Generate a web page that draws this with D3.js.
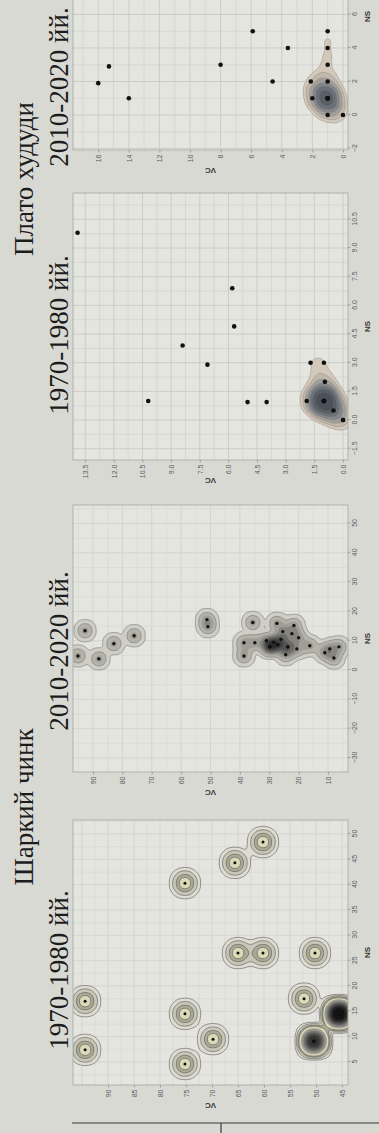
<!DOCTYPE html>
<html>
<head>
<meta charset="utf-8">
<script src="https://cdn.jsdelivr.net/npm/d3@7"></script>
<style>
  html, body { margin: 0; padding: 0; background: #d9d9d4; overflow: hidden; }
  svg { display: block; }
  .axis text { font-family: 'Liberation Sans', 'DejaVu Sans', sans-serif; font-size: 7px; fill: #5c5c5c; }
  .axis line { stroke: #8a8a8a; stroke-width: 0.7; }
  .axis-title { font-family: 'Liberation Sans', 'DejaVu Sans', sans-serif; font-size: 8px; font-weight: bold; fill: #333; }
  .title { font-family: 'Liberation Serif', 'DejaVu Serif', serif; font-size: 27px; fill: #1c1c1c; }
</style>
</head>
<body>
<svg id="page" width="379" height="1133"></svg>
<script>
// Шаркий чинк 1970-1980 (NS, VC)
const eastOldNS = [17, 7.4, 14.5, 4.6, 9.5, 40.3, 44.3, 48.4, 26.5, 26.5, 26.5, 17.5,
  9.1, 9.1, 9.1, 9.1, 9.1, 9.1,
  14.5, 14.5, 14.5, 14.5, 14.5, 14.5, 14.5, 14.5, 14.5];
const eastOldVC = [94.4, 94.4, 75.2, 75.2, 69.8, 75.2, 65.6, 60.2, 65, 60.2, 50.2, 52.3,
  50.4, 50.4, 50.4, 50.4, 50.4, 50.4,
  45.6, 45.6, 45.6, 45.6, 45.6, 45.6, 45.6, 45.6, 45.6];

// Шаркий чинк 2010-2020
const eastNewNS = [4.8, 13.4, 3.8, 9, 11.7, 17.2, 14.8,
  16.2, 9.3, 4.8, 15.9, 15.2, 13.1, 12.4, 7.9, 7.9, 7.9, 8.6, 8.6, 7.9, 7.9,
  7.2, 5.2, 8.3, 7.2, 7.9, 4.1, 9.3, 5.9, 10, 10.5, 9.5, 11];
const eastNewVC = [95.1, 92.7, 88, 82.9, 76, 51.2, 50.9,
  35.6, 38.6, 38.6, 27.4, 21.6, 25.4, 22.3, 29.8, 29.8, 29.8, 27.1, 27.1, 23.7, 23.7,
  20.6, 24.4, 16.2, 9.4, 6.3, 8.0, 34.9, 11.1, 31, 26, 28.5, 20];

// Плато худуди 1970-1980
const plateauOldNS = [9.8, 1, 3.9, 2.9, 6.9, 4.9, 0.94, 0.94, 3, 3, 2, 1, 0,
  1, 1, 1, 1, 1, 1, 0.5, 0];
const plateauOldVC = [13.9, 10.2, 8.4, 7.1, 5.8, 5.7, 5.0, 4.0, 1.7, 1.0, 0.95, 1.9, 0,
  1, 1, 1, 1, 1, 1, 0.5, 0];

// Плато худуди 2010-2020
const plateauNewNS = [1.9, 2.9, 1, 3, 5, 4, 2, 2, 5, 4, 3, 2, 0,
  1, 1, 1, 1, 1, 1, 0];
const plateauNewVC = [16, 15.3, 14, 8, 5.9, 3.6, 4.6, 2.1, 1, 1, 1, 1, 0,
  1, 1, 1, 1, 1, 2, 1];

const eastOldNSTicks = [5, 10, 15, 20, 25, 30, 35, 40, 45, 50];
const eastOldVCTicks = [45, 50, 55, 60, 65, 70, 75, 80, 85, 90];
const eastNewNSTicks = [-30, -20, -10, 0, 10, 20, 30, 40, 50];
const eastNewVCTicks = [10, 20, 30, 40, 50, 60, 70, 80, 90];
const plateauOldNSTicks = [-1.5, 0, 1.5, 3, 4.5, 6, 7.5, 9, 10.5];
const plateauOldVCTicks = [0, 1.5, 3, 4.5, 6, 7.5, 9, 10.5, 12, 13.5];
const plateauNewNSTicks = [-2, 0, 2, 4, 6];
const plateauNewVCTicks = [0, 2, 4, 6, 8, 10, 12, 14, 16];

const regionTitles = ['Шаркий чинк', 'Плато худуди'];
const periodTitles = ['1970-1980 йй.', '2010-2020 йй.', '1970-1980 йй.', '2010-2020 йй.'];

const panelTop = 73;
const panelHeight = 275;

const panels = [
  { ns: eastOldNS, vc: eastOldVC, nsTicks: eastOldNSTicks, vcTicks: eastOldVCTicks, fmt: 'd',
    left: 48, width: 265, xDomain: [0.46, 52.76], yDomain: [43.85, 96.73],
    bw: 7, cell: 1, r: 1.5, grid: '#d3d3ce', lines: 4, stroke: '#505050',
    levels: [0.1, 0.26, 0.52, 0.78, 1.3, 1.8, 2.4, 3.1, 3.9, 4.8, 5.8, 7],
    fills: ['#dedcd2', '#c8c7b7', '#a9a996', '#dcd9b8', '#a3a396', '#8c8c85', '#747471',
      '#5c5c5b', '#464646', '#333333', '#222222', '#141414'] },
  { ns: eastNewNS, vc: eastNewVC, nsTicks: eastNewNSTicks, vcTicks: eastNewVCTicks, fmt: 'd',
    left: 361, width: 267, xDomain: [-34.8, 56.3], yDomain: [3.2, 96.8],
    bw: 4.8, cell: 1, r: 1.7, grid: '#d3d3ce', lines: 2, stroke: '#6a6a6a',
    levels: [0.08, 0.4, 0.85, 1.4, 2.0, 2.7, 3.5, 4.4],
    fills: ['#cfcec6', '#b4b3aa', '#9f9e96', '#85847f', '#6b6a67', '#525250', '#3c3c3b', '#2a2a2a'] },
  { ns: plateauOldNS, vc: plateauOldVC, nsTicks: plateauOldNSTicks, vcTicks: plateauOldVCTicks, fmt: '.1f',
    left: 673, width: 267, xDomain: [-2.09, 11.88], yDomain: [-0.26, 14.14],
    bw: 11, cell: 2, r: 2.3, grid: '#c9c9c4', lines: 3, stroke: '#a08e86',
    levels: [1.8, 2.4, 3.0, 3.7, 4.5, 5.4, 6.4],
    fills: ['#d2c9bb', '#bfb8ac', '#a19f99', '#84868a', '#6c7178', '#5a5f67', '#4c5159'] },
  { ns: plateauNewNS, vc: plateauNewVC, nsTicks: plateauNewNSTicks, vcTicks: plateauNewVCTicks, fmt: 'd',
    left: 983, width: 267, xDomain: [-2.09, 13.85], yDomain: [-0.33, 17.65],
    bw: 10, cell: 2, r: 2.3, grid: '#c9c9c4', lines: 3, stroke: '#a08e86',
    levels: [1.6, 2.2, 2.9, 3.7, 4.6, 5.6, 6.7],
    fills: ['#d2c9bb', '#bfb8ac', '#a19f99', '#84868a', '#6c7178', '#5a5f67', '#4c5159'] }
];

const regionPos = [[326, 33], [954, 33]];
const periodPos = [[163, 68], [482, 68], [798, 68], [1046, 68]];

// the page is photographed turned a quarter turn, so draw upright and rotate
const root = d3.select('#page')
  .append('g')
  .attr('transform', 'translate(0,1133) rotate(-90)');

root.append('rect')
  .attr('x', -10).attr('y', -10)
  .attr('width', 1300).attr('height', 400)
  .attr('fill', '#d9d9d4');

function minorTicks(ticks, domain) {
  const step = ticks[1] - ticks[0];
  return d3.range(ticks[0] - step * 2.5, domain[1] + step, step)
    .filter(v => v > domain[0] && v < domain[1]);
}

function majorTicks(ticks, domain) {
  const step = ticks[1] - ticks[0];
  return d3.range(ticks[0] - step * 3, domain[1] + step / 2, step)
    .filter(v => v > domain[0] && v < domain[1]);
}

function onePointPeak(p) {
  const d = d3.contourDensity().size([p.width, panelHeight]).cellSize(p.cell).bandwidth(p.bw);
  if (d.contours) return d.contours([[p.width / 2, panelHeight / 2]]).max;
  return 1 / (2 * Math.PI * p.bw * p.bw);
}

panels.forEach((p, k) => {
  const x = d3.scaleLinear().domain(p.xDomain).range([0, p.width]);
  const y = d3.scaleLinear().domain(p.yDomain).range([panelHeight, 0]);

  const g = root.append('g')
    .attr('transform', `translate(${p.left},${panelTop})`);

  g.append('clipPath')
    .attr('id', 'clip' + k)
    .append('rect')
    .attr('width', p.width)
    .attr('height', panelHeight);

  g.append('rect')
    .attr('width', p.width)
    .attr('height', panelHeight)
    .attr('fill', '#e5e5e0');

  const grid = g.append('g').attr('clip-path', `url(#clip${k})`);

  grid.selectAll('.vminor')
    .data(minorTicks(p.nsTicks, p.xDomain))
    .join('line')
    .attr('x1', d => x(d)).attr('x2', d => x(d))
    .attr('y1', 0).attr('y2', panelHeight)
    .attr('stroke', p.grid).attr('stroke-width', 0.5);

  grid.selectAll('.hminor')
    .data(minorTicks(p.vcTicks, p.yDomain))
    .join('line')
    .attr('x1', 0).attr('x2', p.width)
    .attr('y1', d => y(d)).attr('y2', d => y(d))
    .attr('stroke', p.grid).attr('stroke-width', 0.5);

  grid.selectAll('.vmajor')
    .data(majorTicks(p.nsTicks, p.xDomain))
    .join('line')
    .attr('x1', d => x(d)).attr('x2', d => x(d))
    .attr('y1', 0).attr('y2', panelHeight)
    .attr('stroke', p.grid).attr('stroke-width', 0.9);

  grid.selectAll('.hmajor')
    .data(majorTicks(p.vcTicks, p.yDomain))
    .join('line')
    .attr('x1', 0).attr('x2', p.width)
    .attr('y1', d => y(d)).attr('y2', d => y(d))
    .attr('stroke', p.grid).attr('stroke-width', 0.9);

  const pts = p.ns.map((d, i) => [x(d), y(p.vc[i])]);
  const peak = onePointPeak(p);

  const density = d3.contourDensity()
    .x(d => d[0])
    .y(d => d[1])
    .size([p.width, panelHeight])
    .cellSize(p.cell)
    .bandwidth(p.bw)
    .thresholds(p.levels.map(l => l * peak));

  g.append('g')
    .attr('clip-path', `url(#clip${k})`)
    .selectAll('path')
    .data(density(pts))
    .join('path')
    .attr('d', d3.geoPath())
    .attr('fill', (d, i) => p.fills[i])
    .attr('stroke', (d, i) => i < p.lines ? p.stroke : 'none')
    .attr('stroke-width', 0.55)
    .attr('stroke-linejoin', 'round');

  g.append('g')
    .attr('clip-path', `url(#clip${k})`)
    .selectAll('circle')
    .data(pts)
    .join('circle')
    .attr('cx', d => d[0])
    .attr('cy', d => d[1])
    .attr('r', p.r)
    .attr('fill', '#111');

  g.append('rect')
    .attr('width', p.width)
    .attr('height', panelHeight)
    .attr('fill', 'none')
    .attr('stroke', '#a9a9a4')
    .attr('stroke-width', 0.8);

  const fmt = d3.format(p.fmt);

  const yAxis = g.append('g')
    .attr('class', 'axis')
    .call(d3.axisLeft(y).tickValues(p.vcTicks).tickSize(2.5).tickPadding(2).tickFormat(fmt));
  yAxis.select('.domain').remove();

  const xAxis = g.append('g')
    .attr('class', 'axis')
    .attr('transform', `translate(0,${panelHeight})`)
    .call(d3.axisBottom(x).tickValues(p.nsTicks).tickSize(2.5).tickPadding(2).tickFormat(fmt));
  xAxis.select('.domain').remove();

  g.append('text')
    .attr('class', 'axis-title')
    .attr('transform', `translate(-18,${panelHeight / 2}) rotate(-90)`)
    .attr('text-anchor', 'middle')
    .text('VC');

  g.append('text')
    .attr('class', 'axis-title')
    .attr('x', Math.min(p.width / 2, 1133 - 12 - p.left))
    .attr('y', panelHeight + 22)
    .attr('text-anchor', 'middle')
    .text('NS');
});

root.selectAll('.region')
  .data(regionTitles)
  .join('text')
  .attr('class', 'title')
  .attr('x', (d, i) => regionPos[i][0])
  .attr('y', (d, i) => regionPos[i][1])
  .attr('text-anchor', 'middle')
  .text(d => d);

root.selectAll('.period')
  .data(periodTitles)
  .join('text')
  .attr('class', 'title')
  .attr('x', (d, i) => periodPos[i][0])
  .attr('y', (d, i) => periodPos[i][1])
  .attr('text-anchor', 'middle')
  .text(d => d);

// table rule at the page edge
root.append('line')
  .attr('x1', 10).attr('x2', 10)
  .attr('y1', 72).attr('y2', 390)
  .attr('stroke', '#3a3a3a').attr('stroke-width', 1.2);

root.append('line')
  .attr('x1', -5).attr('x2', 10)
  .attr('y1', 221).attr('y2', 221)
  .attr('stroke', '#3a3a3a').attr('stroke-width', 1.2);
</script>
</body>
</html>
